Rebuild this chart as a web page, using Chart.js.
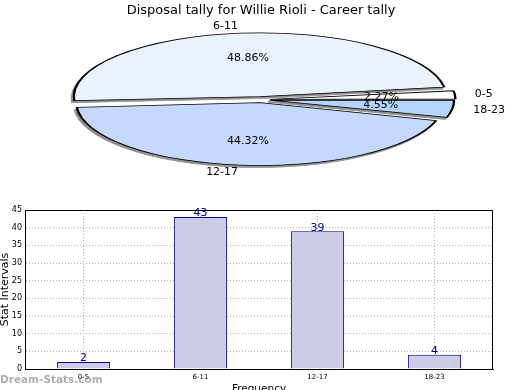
<!DOCTYPE html>
<html>
<head>
<meta charset="utf-8">
<script src="https://cdn.jsdelivr.net/npm/chart.js@4.4.1/dist/chart.umd.min.js"></script>
<style>
  html, body { margin: 0; padding: 0; background: #fff; overflow: hidden; }
  #page { position: relative; width: 520px; height: 390px; overflow: hidden; }
  #pieBox { position: absolute; left: 0; top: 0; width: 520px; height: 200px; }
  #barBox { position: absolute; left: 0; top: 200px; width: 520px; height: 200px; }
  #mark { position: absolute; left: 0; top: 373px; font: bold 10.5px "DejaVu Sans", sans-serif; color: rgba(120,120,120,0.6); }
</style>
</head>
<body>
<div id="page">
  <div id="pieBox"><canvas id="pieChart"></canvas></div>
  <div id="barBox"><canvas id="barChart"></canvas></div>
  <div id="mark">Dream-Stats.com</div>
</div>
<script>
// данные
const categories = ['0-5', '6-11', '12-17', '18-23'];
const tallies = [2, 43, 39, 4];
const yTicks = [0, 5, 10, 15, 20, 25, 30, 35, 40, 45];

const chartTitle = 'Disposal tally for Willie Rioli - Career tally';
const FONT = '"DejaVu Sans", sans-serif';

const total = tallies.reduce((a, b) => a + b, 0);
const pieColours = ['#ffffff', '#eaf2ff', '#c5d9ff', '#b5d5ff'];

// chart.js goes clockwise, matplotlib counter-clockwise -> reverse order
const pieOrder = [3, 2, 1, 0];

const RADIUS = 61;          // vertical radius
const STRETCH = 2.92;       // horizontal stretch to get the ellipse
const EXPLODE = 12;         // chart.js draws offset / 4

function stretch(ctx, arc) {
    ctx.translate(arc.x, arc.y);
    ctx.scale(STRETCH, 1);
    ctx.translate(-arc.x, -arc.y);
}

const ellipsePlugin = {
    id: 'ellipse',
    beforeDatasetsDraw(chart) {
        const ctx = chart.ctx;
        const arcs = chart.getDatasetMeta(0).data;
        // тень под всеми секторами
        ctx.save();
        ctx.translate(-2, 2);
        stretch(ctx, arcs[0]);
        arcs.forEach(a => {
            const o = a.options;
            a.options = Object.assign({}, o, { backgroundColor: '#909090', borderColor: '#909090' });
            a.draw(ctx);
            a.options = o;
        });
        ctx.restore();
        ctx.save();
        stretch(ctx, arcs[0]);
    },
    afterDatasetsDraw(chart) {
        chart.ctx.restore();
    },
    afterDraw(chart) {
        const ctx = chart.ctx;
        const arcs = chart.getDatasetMeta(0).data;
        ctx.save();
        ctx.font = '11px ' + FONT;
        ctx.fillStyle = '#000';
        ctx.textBaseline = 'middle';
        arcs.forEach((a, i) => {
            const idx = pieOrder[i];
            const mid = (a.startAngle + a.endAngle) / 2;
            const off = a.options.offset / 4;
            const r = a.outerRadius + off;   // radius as drawn
            const c = Math.cos(mid), s = Math.sin(mid);
            // подпись категории
            const lx = a.x + c * (r * 1.1 + off) * STRETCH;
            const ly = a.y + s * (r * 1.1 + off);
            ctx.textAlign = c > 0 ? 'left' : 'right';
            ctx.fillText(categories[idx], lx, ly);
            // проценты
            const px = a.x + c * (r * 0.6 + off) * STRETCH;
            const py = a.y + s * (r * 0.6 + off);
            ctx.textAlign = 'center';
            ctx.fillText((tallies[idx] / total * 100).toFixed(2) + '%', px, py);
        });
        ctx.restore();
    }
};

new Chart(document.getElementById('pieChart').getContext('2d'), {
    type: 'pie',
    data: {
        labels: pieOrder.map(i => categories[i]),
        datasets: [{
            data: pieOrder.map(i => tallies[i]),
            backgroundColor: pieOrder.map(i => pieColours[i]),
            borderColor: '#000',
            borderWidth: 0.8,
            offset: EXPLODE
        }]
    },
    options: {
        responsive: true,
        maintainAspectRatio: false,
        animation: false,
        rotation: 90,
        radius: RADIUS,
        layout: { padding: { left: 2, right: 0, top: 0, bottom: 23.4 } },
        plugins: {
            legend: { display: false },
            tooltip: { enabled: false },
            title: {
                display: true,
                text: chartTitle,
                color: '#000',
                font: { family: FONT, size: 13, weight: 'normal' },
                padding: { top: 3, bottom: 4 }
            }
        }
    },
    plugins: [ellipsePlugin]
});

// рамка и подписи значений
const barPlugin = {
    id: 'barExtras',
    afterDatasetsDraw(chart) {
        const ctx = chart.ctx;
        const area = chart.chartArea;
        ctx.save();
        ctx.strokeStyle = '#000';
        ctx.lineWidth = 1;
        ctx.strokeRect(area.left + 0.5, area.top + 0.5, area.right - area.left - 1, area.bottom - area.top);
        ctx.font = '11px ' + FONT;
        ctx.fillStyle = '#00008b';
        ctx.textAlign = 'center';
        ctx.textBaseline = 'bottom';
        chart.getDatasetMeta(0).data.forEach((bar, i) => {
            ctx.fillText(String(tallies[i]), bar.x, bar.y + 2);
        });
        ctx.restore();
    }
};

new Chart(document.getElementById('barChart').getContext('2d'), {
    type: 'bar',
    data: {
        labels: categories,
        datasets: [{
            data: tallies,
            backgroundColor: 'rgb(204,204,230)',
            borderColor: '#000080',
            borderWidth: 1,
            barPercentage: 0.455,
            categoryPercentage: 1
        }]
    },
    options: {
        responsive: true,
        maintainAspectRatio: false,
        animation: false,
        layout: { padding: { left: 0, right: 27, top: 10, bottom: 0 } },
        plugins: {
            legend: { display: false },
            tooltip: { enabled: false }
        },
        scales: {
            x: {
                grid: { offset: false, color: '#b0b0b0', drawTicks: false },
                border: { display: true, color: '#000', dash: [1, 2] },
                ticks: { color: '#000', font: { family: FONT, size: 7 }, padding: 4 },
                title: {
                    display: true, text: 'Frequency', color: '#000',
                    font: { family: FONT, size: 10.5, lineHeight: 1 },
                    padding: { top: 0, bottom: 5.5 }
                },
                afterFit(scale) { scale.height = 31; }
            },
            y: {
                min: 0,
                max: 45,
                afterBuildTicks(scale) { scale.ticks = yTicks.map(v => ({ value: v })); },
                grid: { color: '#b0b0b0', drawTicks: false },
                border: { display: true, color: '#000', dash: [1, 2] },
                ticks: { color: '#000', font: { family: FONT, size: 8 }, padding: 3 },
                title: {
                    display: true, text: 'Stat Intervals', color: '#000',
                    font: { family: FONT, size: 11, lineHeight: 1 },
                    padding: 0
                },
                afterFit(scale) { scale.width = 25; }
            }
        }
    },
    plugins: [barPlugin]
});
</script>
</body>
</html>
